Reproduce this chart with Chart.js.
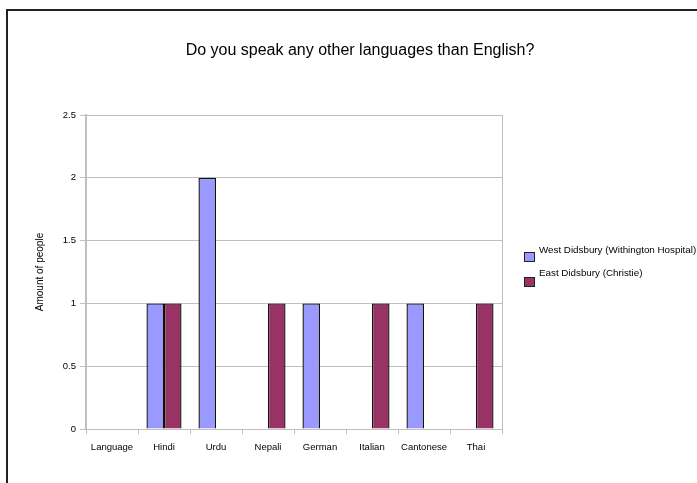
<!DOCTYPE html>
<html lang="en">
<head>
    <meta charset="UTF-8">
    <title>Languages spoken</title>
    <style>
        body {
            margin: 0;
            background: #fff;
            font-family: Arial, 'Liberation Sans', sans-serif;
        }
        #frame {
            position: absolute;
            left: 6px;
            top: 9px;
            width: 760px;
            height: 520px;
            border-top: 2px solid #222;
            border-left: 2px solid #222;
        }
        #title {
            position: absolute;
            left: 0;
            top: 41px;
            width: 720px;
            text-align: center;
            font-size: 16px;
            color: #000;
        }
        #chartBox {
            position: absolute;
            left: 0;
            top: 0;
        }
        .legend-item {
            position: absolute;
            left: 524px;
            font-size: 9.8px;
            color: #000;
            white-space: nowrap;
        }
        .legend-item span {
            position: absolute;
            left: 0;
            width: 9px;
            height: 8px;
            border: 1px solid #222;
        }
        .legend-item label {
            position: absolute;
            left: 15px;
        }
    </style>
</head>
<body>
    <div id="frame"></div>
    <div id="chartBox">
        <canvas id="langChart" width="697" height="483"></canvas>
    </div>
    <div id="title">Do you speak any other languages than English?</div>
    <div id="legend"></div>

    <script src="https://cdn.jsdelivr.net/npm/chart.js"></script>
    <script>
        // Categories and counts per site (null = no answer for that site)
        const languages = ['Language', 'Hindi', 'Urdu', 'Nepali', 'German', 'Italian', 'Cantonese', 'Thai'];
        const westDidsbury = [null, 1, 2, null, 1, null, 1, null];
        const eastDidsbury = [null, 1, null, 1, null, 1, null, 1];
        const seriesNames = ['West Didsbury (Withington Hospital)', 'East Didsbury (Christie)'];
        const seriesColors = ['#9999FF', '#993366'];
        const yTicks = [0, 0.5, 1, 1.5, 2, 2.5];

        const gridGrey = '#c0c0c0';
        const labelFont = { family: 'Arial, "Liberation Sans", sans-serif', size: 9.5 };

        // Thin grey line down the right side of the plot area
        const plotFrame = {
            id: 'plotFrame',
            afterDraw(chart) {
                const { ctx, chartArea } = chart;
                ctx.save();
                ctx.strokeStyle = gridGrey;
                ctx.lineWidth = 1;
                ctx.beginPath();
                ctx.moveTo(chartArea.right + 0.5, chartArea.top);
                ctx.lineTo(chartArea.right + 0.5, chartArea.bottom);
                ctx.stroke();
                ctx.restore();
            }
        };

        const datasets = [westDidsbury, eastDidsbury].map((values, i) => ({
            label: seriesNames[i],
            data: values,
            backgroundColor: seriesColors[i],
            borderColor: '#111',
            borderWidth: 1.4,
            categoryPercentage: 0.675,
            barPercentage: 1.0
        }));

        const ctx = document.getElementById('langChart').getContext('2d');
        new Chart(ctx, {
            type: 'bar',
            data: { labels: languages, datasets: datasets },
            options: {
                responsive: false,
                animation: false,
                layout: { padding: { left: 30, top: 115, right: 195, bottom: 0 } },
                plugins: {
                    legend: { display: false },
                    title: { display: false },
                    tooltip: { enabled: false }
                },
                scales: {
                    x: {
                        offset: true,
                        grid: {
                            offset: true,
                            drawOnChartArea: false,
                            color: gridGrey,
                            tickLength: 5
                        },
                        border: { display: true, color: gridGrey, width: 1 },
                        ticks: { color: '#000', font: labelFont, padding: 8, maxRotation: 0 },
                        afterFit(scale) { scale.height = 54; }
                    },
                    y: {
                        min: 0,
                        max: 2.5,
                        afterBuildTicks(scale) {
                            scale.ticks = yTicks.map(v => ({ value: v }));
                        },
                        grid: { color: gridGrey, tickLength: 6 },
                        border: { display: true, color: gridGrey, width: 2 },
                        ticks: {
                            color: '#000',
                            font: labelFont,
                            padding: 4,
                            callback: v => String(v)
                        },
                        title: {
                            display: true,
                            text: 'Amount of people',
                            color: '#000',
                            font: { family: 'Arial, "Liberation Sans", sans-serif', size: 10 },
                            padding: { top: 4, bottom: 4 }
                        },
                        afterFit(scale) { scale.width = 56; }
                    }
                }
            },
            plugins: [plotFrame]
        });

        // Legend to the right of the plot
        const legend = document.getElementById('legend');
        const legendRows = [{ box: 252, text: 244 }, { box: 277, text: 267 }];
        seriesNames.forEach((name, i) => {
            const item = document.createElement('div');
            item.className = 'legend-item';
            item.style.top = '0px';
            const box = document.createElement('span');
            box.style.background = seriesColors[i];
            box.style.top = legendRows[i].box + 'px';
            const text = document.createElement('label');
            text.textContent = name;
            text.style.top = legendRows[i].text + 'px';
            item.appendChild(box);
            item.appendChild(text);
            legend.appendChild(item);
        });
    </script>
</body>
</html>
